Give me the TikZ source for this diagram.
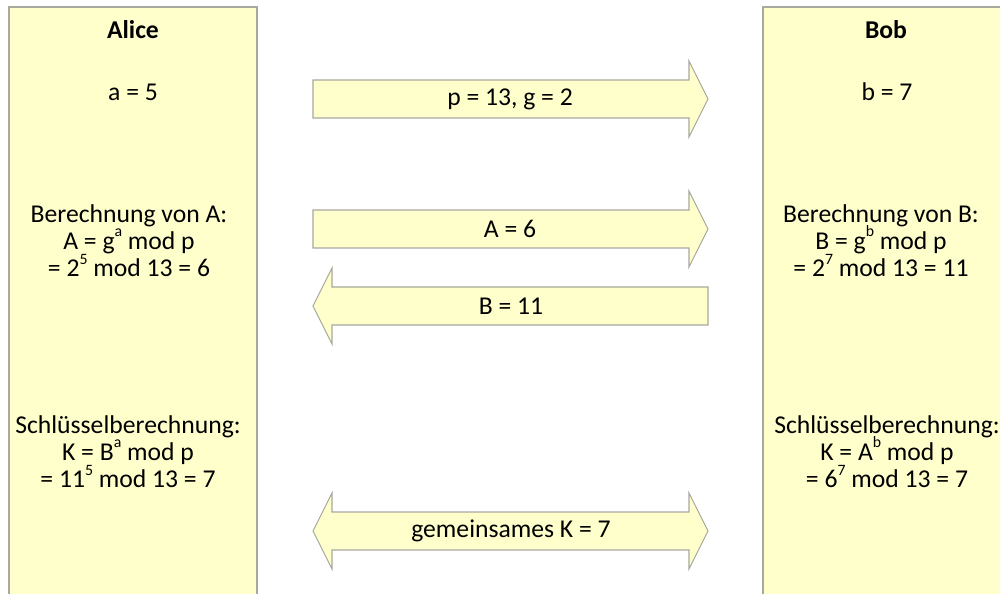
\documentclass[tikz,border=0pt]{standalone}
\usepackage{fontspec}
\setmainfont{Carlito}

\definecolor{notefill}{RGB}{255,255,204}
\definecolor{noteline}{RGB}{168,168,158}

% small raised exponent, kept out of the line height
\newcommand{\expo}[1]{\smash{\raisebox{0.5em}{\fontsize{9}{9}\selectfont #1}}}

\tikzset{
  panel/.style={draw=noteline, fill=notefill, line width=0.7pt},
  msg/.style={draw=noteline, fill=notefill, line width=0.6pt, line join=miter},
  txt/.style={inner sep=0pt, align=center, font=\fontsize{14.6}{15.4}\selectfont},
}

\begin{document}
\begin{tikzpicture}[x=0.02cm, y=-0.02cm]
\useasboundingbox (0,0) rectangle (1000,594);
\clip (0,0) rectangle (1000,594);

% the two parties
\draw[panel] (9,7) rectangle (257,610);
\draw[panel] (763,7) rectangle (1012,610);

\node[txt, font=\fontsize{14.6}{15.4}\selectfont\bfseries] (alice) at (133,30) {Alice};
\node[txt] (asecret) at (133,92) {a = 5};
\node[txt] (acalc) at (129,241) {Berechnung von A:\\A = g\expo{a} mod p\\= 2\expo{5} mod 13 = 6};
\node[txt] (akey) at (128,452) {Schlüsselberechnung:\\K = B\expo{a} mod p\\= 11\expo{5} mod 13 = 7};

\node[txt, font=\fontsize{14.6}{15.4}\selectfont\bfseries] (bob) at (886,30) {Bob};
\node[txt] (bsecret) at (887,92) {b = 7};
\node[txt] (bcalc) at (881,241) {Berechnung von B:\\B = g\expo{b} mod p\\= 2\expo{7} mod 13 = 11};
\node[txt] (bkey) at (887,452) {Schlüsselberechnung:\\K = A\expo{b} mod p\\= 6\expo{7} mod 13 = 7};

% messages
\draw[msg] (313,80) -- (689,80) -- (689,61) -- (708,99) -- (689,137) -- (689,118) -- (313,118) -- cycle;
\node[txt] (params) at (510,99) {p = 13, g = 2};

\draw[msg] (313,210) -- (689,210) -- (689,191) -- (708,229) -- (689,267) -- (689,248) -- (313,248) -- cycle;
\node[txt] (sendA) at (510,229) {A = 6};

\draw[msg] (708,287) -- (332,287) -- (332,268) -- (313,306) -- (332,344) -- (332,325) -- (708,325) -- cycle;
\node[txt] (sendB) at (511,306) {B = 11};

\draw[msg] (332,512) -- (689,512) -- (689,493) -- (708,531) -- (689,569) -- (689,550)
  -- (332,550) -- (332,569) -- (313,531) -- (332,493) -- cycle;
\node[txt] (shared) at (511,531) {gemeinsames K = 7};
\end{tikzpicture}
\end{document}
